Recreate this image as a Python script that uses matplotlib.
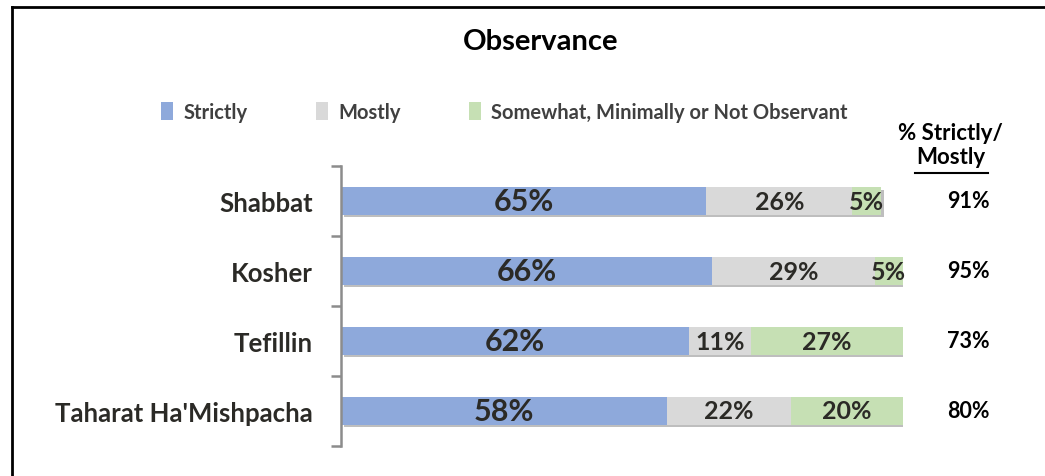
import matplotlib.pyplot as plt
import matplotlib.patheffects as pe
from matplotlib.patches import Patch
import numpy as np

plt.rcParams['font.family'] = ['Lato', 'DejaVu Sans']

categories = ['Shabbat', 'Kosher', 'Tefillin', "Taharat Ha'Mishpacha"]
strictly = [65, 66, 62, 58]
mostly = [26, 29, 11, 22]
somewhat = [5, 5, 27, 20]
strict_mostly = [91, 95, 73, 80]

series_names = ['Strictly', 'Mostly', 'Somewhat, Minimally or Not Observant']
colors = ['#8EA9DB', '#D9D9D9', '#C6E0B4']
text_dark = '#2b2a26'

fig = plt.figure(figsize=(10.45, 4.77), dpi=100)
ax = fig.add_axes([341 / 1045, 30 / 477, 562 / 1045, 280 / 477])

y = np.arange(len(categories))
shadow = [pe.withSimplePatchShadow(offset=(2.5, -2), shadow_rgbFace='#8a8a8a', alpha=0.55), pe.Normal()]

left = np.zeros(len(categories))
for vals, col, name in zip([strictly, mostly, somewhat], colors, series_names):
    bars = ax.barh(y, vals, left=left, height=0.39, color=col, label=name, zorder=2)
    for b in bars:
        b.set_path_effects(shadow)
    for yi, l, v in zip(y, left, vals):
        big = name == 'Strictly'
        ax.text(l + v / 2, yi, f'{v}%', ha='center', va='center',
                fontsize=22 if big else 18, fontweight='bold', color=text_dark, zorder=3)
    left += np.array(vals)

ax.set_xlim(0, 100)
ax.set_ylim(len(categories) - 0.5, -0.5)
ax.set_xticks([])
ax.set_yticks(y)
ax.set_yticklabels(categories, fontsize=18.5, fontweight='bold', color=text_dark)
ax.tick_params(axis='y', which='major', length=0, pad=20)
ax.set_yticks(np.arange(-0.5, len(categories)), minor=True)
ax.tick_params(axis='y', which='minor', length=7, width=1.8, color='#8c8c8c')
for s in ['top', 'right', 'bottom']:
    ax.spines[s].set_visible(False)
ax.spines['left'].set_color('#8c8c8c')
ax.spines['left'].set_linewidth(1.8)

# right-hand summary column
for yi, v in zip(y, strict_mostly):
    ax.annotate(f'{v}%', xy=(1, yi), xycoords=('axes fraction', 'data'),
                xytext=(968 - 903, 0), textcoords='offset pixels',
                ha='center', va='center', fontsize=15.5, fontweight='bold', color='black')

fig.text(950 / 1045, 1 - 133 / 477, '% Strictly/', ha='center', va='center',
         fontsize=16, fontweight='bold', color='black')
fig.text(951 / 1045, 1 - 158 / 477, 'Mostly', ha='center', va='center',
         fontsize=16, fontweight='bold', color='black')
fig.add_artist(plt.Line2D([915 / 1045, 988 / 1045], [1 - 174 / 477, 1 - 174 / 477],
                          color='black', linewidth=1.5))

fig.text(541 / 1045, 1 - 42 / 477, 'Observance', ha='center', va='center',
         fontsize=21, fontweight='bold', color='black')

handles = [Patch(facecolor=c, edgecolor='none') for c in colors]
leg = fig.legend(handles, series_names, loc='center left', bbox_to_anchor=(143 / 1045, 1 - 113 / 477),
                 ncol=3, frameon=False, handlelength=0.6, handleheight=1.0, handletextpad=0.5,
                 columnspacing=3.4, prop={'weight': 'bold', 'size': 14.5})
for t in leg.get_texts():
    t.set_color('#404040')

# outer frame (top and left edges)
fig.add_artist(plt.Line2D([12 / 1045, 1], [1 - 8 / 477, 1 - 8 / 477], color='black', linewidth=2))
fig.add_artist(plt.Line2D([12 / 1045, 12 / 1045], [0, 1 - 8 / 477], color='black', linewidth=2))

fig.savefig('out.png', dpi=100)
